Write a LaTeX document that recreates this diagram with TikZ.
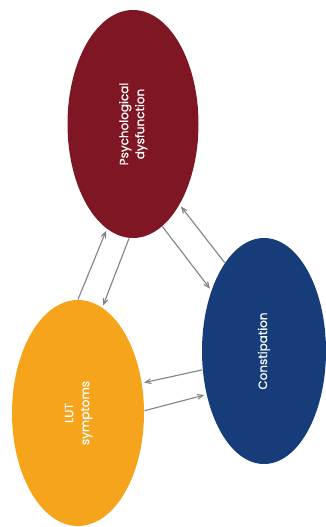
\documentclass[tikz,border=0pt]{standalone}
\usepackage{fontspec}
\setmainfont{Poppins}[FakeBold=0.8]
\usepackage{graphicx}
\usetikzlibrary{arrows,shapes.geometric}

\definecolor{psyred}{RGB}{127,22,36}
\definecolor{lutyellow}{RGB}{246,164,27}
\definecolor{conblue}{RGB}{22,60,122}
\definecolor{arrowgray}{RGB}{130,130,130}

\begin{document}
\begin{tikzpicture}[x=1pt,y=-1pt,->,>=angle 45,shorten >=2pt,
                draw=arrowgray,line width=1.1pt,
                main node/.style={ellipse,draw=none,inner sep=0pt,text=white,
                  font=\fontsize{12}{16}\selectfont}]
  \useasboundingbox (0,0) rectangle (326,527);

  \node[main node,fill=psyred,minimum width=131pt,minimum height=228pt] (1) at (133,124)
    {\rotatebox{90}{\begin{tabular}{@{}c@{}}Psychological\\dysfunction\end{tabular}}};
  \node[main node,fill=lutyellow,minimum width=132pt,minimum height=226pt] (2) at (78,413)
    {\rotatebox{90}{\begin{tabular}{@{}c@{}}LUT\\symptoms\end{tabular}}};
  \node[main node,fill=conblue,minimum width=124pt,minimum height=226pt] (3) at (264,351)
    {\rotatebox{90}{Constipation}};

  \path
    (2.90) edge (1.256)
    (1.268) edge (2.77)
    (1.286) edge (3.131)
    (3.114) edge (1.300)
    (3.197) edge (2.25)
    (2.2) edge (3.217);
\end{tikzpicture}
\end{document}
